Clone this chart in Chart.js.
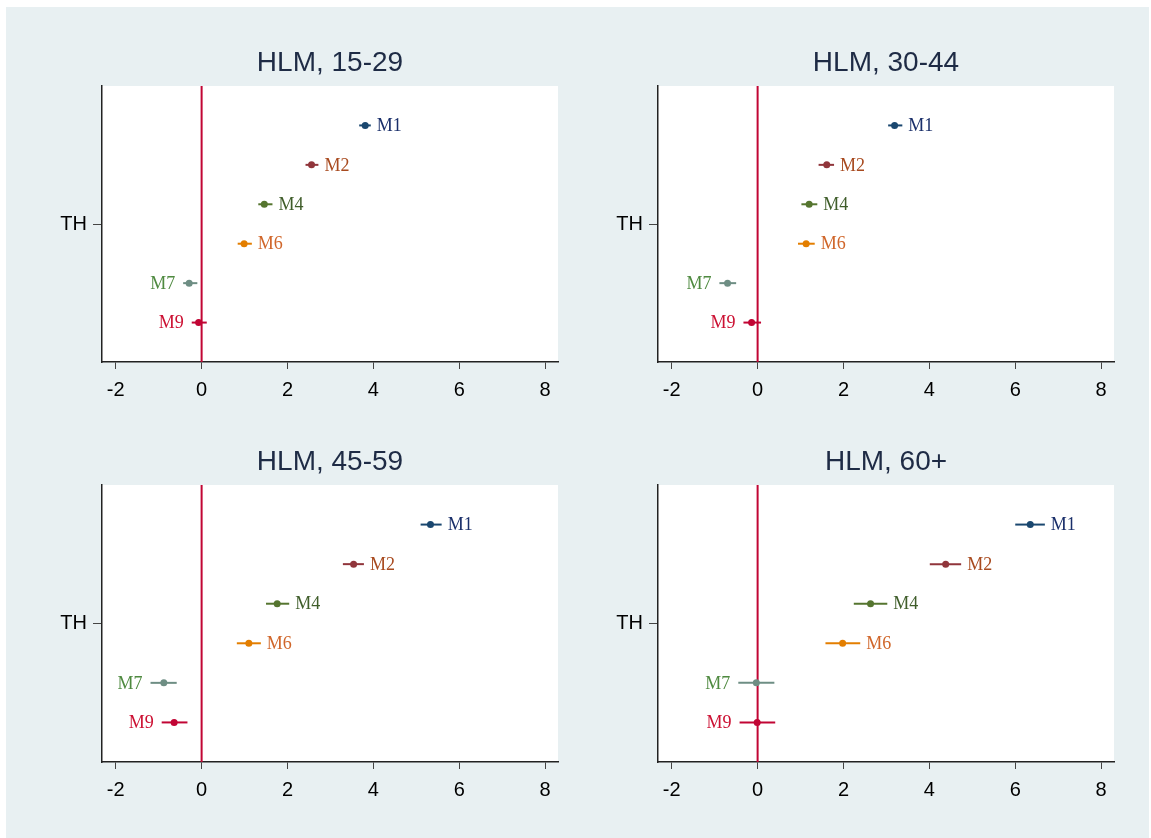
<!DOCTYPE html>
<html>
<head>
<meta charset="utf-8">
<script src="https://cdn.jsdelivr.net/npm/chart.js@4.4.0/dist/chart.umd.min.js"></script>
<style>
  body { margin: 0; background: #ffffff; }
  #page { position: relative; width: 1151px; height: 838px; overflow: hidden; }
  #bg { position: absolute; left: 6px; top: 7px; width: 1143px; height: 831px; background: #e8f0f2; }
  canvas { position: absolute; }
</style>
</head>
<body>
<div id="page">
  <div id="bg"></div>
  <canvas id="c1" width="575" height="419" style="left:0px;top:0px;"></canvas>
  <canvas id="c2" width="576" height="419" style="left:575px;top:0px;"></canvas>
  <canvas id="c3" width="575" height="419" style="left:0px;top:419px;"></canvas>
  <canvas id="c4" width="576" height="419" style="left:575px;top:419px;"></canvas>
</div>
<script>
// models and where each one sits around the TH row
var models = ['M1', 'M2', 'M4', 'M6', 'M7', 'M9'];
var rowPos = [2.5, 1.5, 0.5, -0.5, -1.5, -2.5];
var labelSide = ['right', 'right', 'right', 'right', 'left', 'left'];
var markerColors = ['#1a476f', '#90353b', '#55752f', '#e37e00', '#6e8e84', '#c10534'];
var labelColors = ['#1a2f6a', '#a84a1f', '#3f5d2a', '#d0662a', '#4f8a40', '#cc1133'];
var xTicks = [-2, 0, 2, 4, 6, 8];
var yTickLabel = 'TH';

var titles = ['HLM, 15-29', 'HLM, 30-44', 'HLM, 45-59', 'HLM, 60+'];

// estimates and confidence bounds, per age group
var est1529 = [3.81, 2.56, 1.46, 0.99, -0.29, -0.07];
var lo1529  = [3.67, 2.42, 1.32, 0.84, -0.43, -0.23];
var hi1529  = [3.94, 2.72, 1.65, 1.17, -0.10, 0.12];

var est3044 = [3.19, 1.61, 1.20, 1.13, -0.70, -0.14];
var lo3044  = [3.04, 1.42, 1.02, 0.94, -0.89, -0.33];
var hi3044  = [3.37, 1.78, 1.39, 1.33, -0.50, 0.08];

var est4559 = [5.33, 3.54, 1.76, 1.10, -0.88, -0.64];
var lo4559  = [5.10, 3.29, 1.50, 0.82, -1.19, -0.93];
var hi4559  = [5.59, 3.78, 2.04, 1.38, -0.58, -0.33];

var est60 = [6.35, 4.38, 2.63, 1.98, -0.03, -0.01];
var lo60  = [6.00, 4.01, 2.24, 1.58, -0.45, -0.42];
var hi60  = [6.69, 4.74, 3.02, 2.39, 0.39, 0.41];

var xMin = -2.32, xMax = 8.3;
var yMin = -3.5, yMax = 3.5;

// white plot region
var plotBg = {
  id: 'plotBg',
  beforeDraw: function (chart) {
    var a = chart.chartArea;
    var ctx = chart.ctx;
    ctx.save();
    ctx.fillStyle = '#ffffff';
    ctx.fillRect(a.left, a.top, a.right - a.left, a.bottom - a.top);
    ctx.restore();
  }
};

// model names next to each interval
var modelLabels = {
  id: 'modelLabels',
  afterDatasetsDraw: function (chart, args, opts) {
    var ctx = chart.ctx;
    var xs = chart.scales.x, ys = chart.scales.y;
    ctx.save();
    ctx.font = '18px "Liberation Serif", "Times New Roman", serif';
    ctx.textBaseline = 'middle';
    for (var i = 0; i < models.length; i++) {
      var y = ys.getPixelForValue(rowPos[i]);
      ctx.fillStyle = labelColors[i];
      if (labelSide[i] == 'right') {
        ctx.textAlign = 'left';
        ctx.fillText(models[i], xs.getPixelForValue(opts.hi[i]) + 6, y + 1);
      } else {
        ctx.textAlign = 'right';
        ctx.fillText(models[i], xs.getPixelForValue(opts.lo[i]) - 8, y + 1);
      }
    }
    ctx.restore();
  }
};

function makePanel(id, title, est, lo, hi, padLeft, padRight, titleTop, xHeight) {
  var datasets = [];
  // zero reference line
  datasets.push({
    type: 'line',
    data: [{x: 0, y: yMin}, {x: 0, y: yMax}],
    borderColor: '#c10534',
    borderWidth: 2,
    pointRadius: 0,
    order: 3
  });
  for (var i = 0; i < models.length; i++) {
    datasets.push({
      type: 'line',
      data: [{x: lo[i], y: rowPos[i]}, {x: hi[i], y: rowPos[i]}],
      borderColor: markerColors[i],
      borderWidth: 2,
      pointRadius: 0,
      order: 2
    });
  }
  var pts = [];
  for (var j = 0; j < models.length; j++) {
    pts.push({x: est[j], y: rowPos[j]});
  }
  datasets.push({
    type: 'scatter',
    data: pts,
    backgroundColor: markerColors,
    borderColor: markerColors,
    pointRadius: 3.5,
    borderWidth: 0,
    order: 1
  });

  return new Chart(document.getElementById(id), {
    data: { datasets: datasets },
    options: {
      responsive: false,
      animation: false,
      devicePixelRatio: 1,
      layout: { padding: { left: padLeft, right: padRight, top: 0, bottom: 0 } },
      plugins: {
        legend: { display: false },
        tooltip: { enabled: false },
        title: {
          display: true,
          fullSize: false,
          text: title,
          color: '#1e2b45',
          font: { family: '"Liberation Sans", Arial, sans-serif', size: 28, weight: 'normal', lineHeight: 1.2 },
          padding: { top: titleTop, bottom: 6.2 }
        },
        modelLabels: { lo: lo, hi: hi }
      },
      scales: {
        x: {
          type: 'linear',
          min: xMin,
          max: xMax,
          afterBuildTicks: function (scale) {
            scale.ticks = xTicks.map(function (v) { return {value: v}; });
          },
          afterFit: function (scale) { scale.height = xHeight; },
          grid: { drawOnChartArea: false, drawTicks: true, tickLength: 7, color: '#444444' },
          border: { display: true, color: '#222222', width: 1.5 },
          ticks: {
            color: '#000000',
            padding: 9,
            font: { family: '"Liberation Sans", Arial, sans-serif', size: 20 }
          }
        },
        y: {
          type: 'linear',
          min: yMin,
          max: yMax,
          afterBuildTicks: function (scale) {
            scale.ticks = [{value: 0}];
          },
          afterFit: function (scale) { scale.width = 60; },
          grid: { drawOnChartArea: false, drawTicks: true, tickLength: 9, color: '#444444' },
          border: { display: true, color: '#222222', width: 1.5 },
          ticks: {
            color: '#000000',
            padding: 6,
            font: { family: '"Liberation Sans", Arial, sans-serif', size: 20 },
            callback: function () { return yTickLabel; }
          }
        }
      }
    },
    plugins: [plotBg, modelLabels]
  });
}

makePanel('c1', titles[0], est1529, lo1529, hi1529, 42, 17, 46.2, 57);
makePanel('c2', titles[1], est3044, lo3044, hi3044, 23, 37, 46.2, 57);
makePanel('c3', titles[2], est4559, lo4559, hi4559, 42, 17, 26.2, 76);
makePanel('c4', titles[3], est60, lo60, hi60, 23, 37, 26.2, 76);
</script>
</body>
</html>
